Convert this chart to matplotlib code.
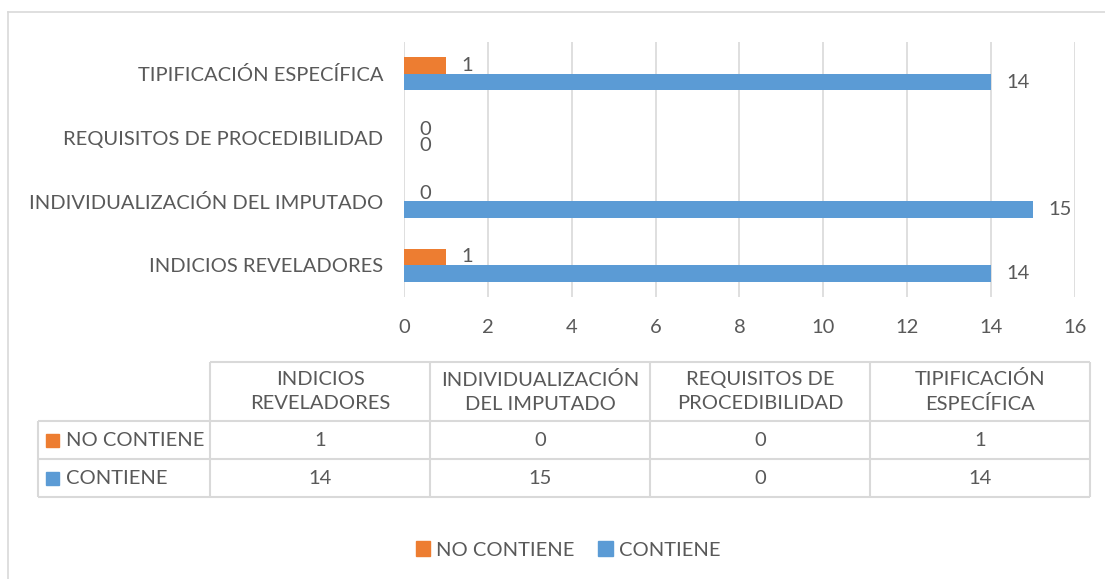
import matplotlib.pyplot as plt
from matplotlib.patches import Patch

plt.rcParams['font.family'] = ['Lato', 'DejaVu Sans']

# datos
categorias = ['INDICIOS REVELADORES', 'INDIVIDUALIZACIÓN DEL IMPUTADO',
              'REQUISITOS DE PROCEDIBILIDAD', 'TIPIFICACIÓN ESPECÍFICA']
encabezados = ['INDICIOS\nREVELADORES', 'INDIVIDUALIZACIÓN\nDEL IMPUTADO',
               'REQUISITOS DE\nPROCEDIBILIDAD', 'TIPIFICACIÓN\nESPECÍFICA']
series = ['NO CONTIENE', 'CONTIENE']
no_contiene = [1, 0, 0, 1]
contiene = [14, 15, 0, 14]
ticks_x = [0, 2, 4, 6, 8, 10, 12, 14, 16]

naranja = '#ED7D31'
azul = '#5B9BD5'
gris_txt = '#595959'
gris_lin = '#D9D9D9'
fs = 14.5

W, H = 1105, 579
fig = plt.figure(figsize=(W / 100, H / 100), dpi=100)

# marco del area del grafico
fig.add_artist(plt.Line2D([8 / W, 1], [1 - 12 / H, 1 - 12 / H], color=gris_lin, lw=1.2))
fig.add_artist(plt.Line2D([8 / W, 8 / W], [0, 1 - 12 / H], color=gris_lin, lw=1.2))

# barras
ax = fig.add_axes([404 / W, 1 - 297 / H, (1075 - 404) / W, (297 - 42) / H])
y = list(range(len(categorias)))
h = 0.26
ax.barh([v + h / 2 for v in y], no_contiene, height=h, color=naranja)
ax.barh([v - h / 2 for v in y], contiene, height=h, color=azul)
for i in y:
    ax.annotate(str(no_contiene[i]), (no_contiene[i], i + h / 2), xytext=(11, 0),
                textcoords='offset points', ha='left', va='center', fontsize=fs, color=gris_txt)
    ax.annotate(str(contiene[i]), (contiene[i], i - h / 2), xytext=(11, 0),
                textcoords='offset points', ha='left', va='center', fontsize=fs, color=gris_txt)
ax.set_xlim(0, 16)
ax.set_ylim(-0.5, 3.5)
ax.set_xticks(ticks_x)
ax.set_yticks(y)
ax.set_yticklabels(categorias)
ax.tick_params(length=0, labelsize=fs, labelcolor=gris_txt)
ax.tick_params(axis='x', pad=16)
ax.tick_params(axis='y', pad=15)
ax.grid(axis='x', color=gris_lin, lw=1.2)
ax.set_axisbelow(True)
for s in ax.spines.values():
    s.set_visible(False)

# tabla de datos
tab = fig.add_axes([38 / W, 1 - 497 / H, (1090 - 38) / W, (497 - 362) / H])
tab.set_xlim(0, 1052)
tab.set_ylim(135, 0)
tab.axis('off')
col_x = [0, 172, 392, 612, 832, 1052]
fil_y = [0, 59, 97, 135]
kw = dict(color=gris_lin, lw=1.5, clip_on=False)
tab.hlines(fil_y[0], col_x[1], col_x[-1], **kw)
tab.hlines(fil_y[1:], col_x[0], col_x[-1], **kw)
tab.vlines(col_x[0], fil_y[1], fil_y[-1], **kw)
tab.vlines(col_x[1:], fil_y[0], fil_y[-1], **kw)
for j, enc in enumerate(encabezados):
    cx = (col_x[j + 1] + col_x[j + 2]) / 2
    tab.text(cx, (fil_y[0] + fil_y[1]) / 2, enc, ha='center', va='center',
             fontsize=fs, color=gris_txt, linespacing=1.5)
filas = [no_contiene, contiene]
colores = [naranja, azul]
for r, (nombre, vals, c) in enumerate(zip(series, filas, colores)):
    cy = (fil_y[r + 1] + fil_y[r + 2]) / 2
    tab.add_patch(plt.Rectangle((8, cy - 6.5), 13, 13, color=c, clip_on=False))
    tab.text(28, cy, nombre, ha='left', va='center', fontsize=fs, color=gris_txt)
    for j, v in enumerate(vals):
        cx = (col_x[j + 1] + col_x[j + 2]) / 2
        tab.text(cx, cy, str(v), ha='center', va='center', fontsize=fs, color=gris_txt)

# leyenda
handles = [Patch(color=naranja, label=series[0]), Patch(color=azul, label=series[1])]
fig.legend(handles=handles, loc='center', bbox_to_anchor=(0.514, 1 - 550 / H), ncol=2,
           frameon=False, fontsize=fs, labelcolor=gris_txt, handlelength=0.7,
           handleheight=0.7, handletextpad=0.3, columnspacing=1.2)

fig.savefig('out.png', dpi=100)
